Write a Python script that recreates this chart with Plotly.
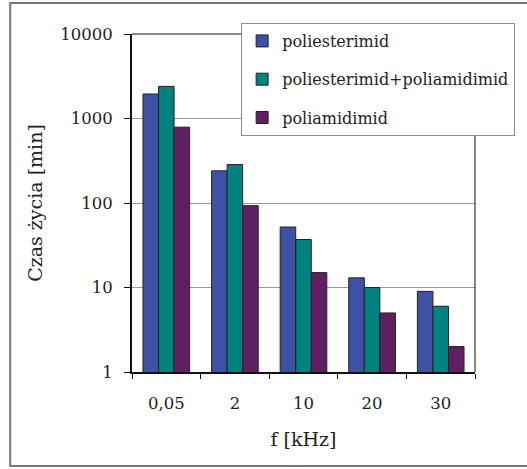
import plotly.graph_objects as go

# Frequencies (category labels) and lifetimes in minutes
freq_labels = ["0,05", "2", "10", "20", "30"]
poliesterimid = [1950, 240, 52, 13, 9]
poliesterimid_poliamidimid = [2400, 285, 37, 10, 6]
poliamidimid = [790, 93, 15, 5, 2]

series = [
    ("poliesterimid", poliesterimid, "#3F51A5"),
    ("poliesterimid+poliamidimid", poliesterimid_poliamidimid, "#00827E"),
    ("poliamidimid", poliamidimid, "#601F62"),
]

FONT = "DejaVu Serif"
TICK_SIZE = 16.5
LEGEND_SIZE = 16
TITLE_SIZE = 19

fig = go.Figure()
for i, (name, vals, color) in enumerate(series):
    fig.add_trace(go.Bar(
        x=freq_labels, y=vals, name=name,
        legendgroup=f"g{i}",
        marker=dict(color=color, line=dict(color="#222222", width=1)),
    ))

W, H = 527, 469
L, R, T, B = 132, 43, 34, 97

fig.update_layout(
    width=W, height=H,
    margin=dict(l=L, r=R, t=T, b=B),
    paper_bgcolor="white", plot_bgcolor="white",
    barmode="group", bargap=0.32, bargroupgap=0,
    font=dict(family=FONT, size=TICK_SIZE, color="#222222"),
    showlegend=True,
    legend=dict(
        x=(244 - L) / (W - L - R), y=(H - B - 23) / (H - T - B),
        xanchor="left", yanchor="top",
        bgcolor="white", bordercolor="#8c8c8c", borderwidth=1,
        font=dict(family=FONT, size=LEGEND_SIZE), tracegroupgap=14.5,
        traceorder="grouped",
    ),
    xaxis=dict(
        type="category", showline=True, linecolor="#111111", linewidth=2,
        ticks="outside", ticklen=5, tickcolor="#111111", tickwidth=1,
        tickson="boundaries", showgrid=False,
        ticklabelstandoff=15,
        tickfont=dict(family=FONT, size=TICK_SIZE),
        title=dict(text="f [kHz]", font=dict(family=FONT, size=TITLE_SIZE), standoff=21),
    ),
    yaxis=dict(
        type="log", range=[0, 4],
        tickvals=[1, 10, 100, 1000, 10000],
        ticktext=["1", "10", "100", "1000", "10000"],
        showline=True, linecolor="#111111", linewidth=2,
        ticks="outside", ticklen=6, tickcolor="#111111", tickwidth=1,
        showgrid=True, gridcolor="#9a9a9a", gridwidth=1,
        ticklabelstandoff=8,
        tickfont=dict(family=FONT, size=TICK_SIZE),
        title=dict(text="Czas życia [min]", font=dict(family=FONT, size=TITLE_SIZE), standoff=13),
    ),
    shapes=[
        # thin top and right frame of the plotting area
        dict(type="line", xref="paper", yref="paper", x0=0, x1=1, y0=1, y1=1,
             line=dict(color="#111111", width=1)),
        dict(type="line", xref="paper", yref="paper", x0=1, x1=1, y0=0, y1=1,
             line=dict(color="#111111", width=1)),
        # outer chart border (open on the right)
        dict(type="rect", xref="paper", yref="paper",
             x0=(7 - L) / (W - L - R), x1=(600 - L) / (W - L - R),
             y0=(H - B - 466) / (H - T - B), y1=(H - B - 3) / (H - T - B),
             line=dict(color="#777777", width=2), layer="below"),
    ],
)

fig.write_html("out.html")
